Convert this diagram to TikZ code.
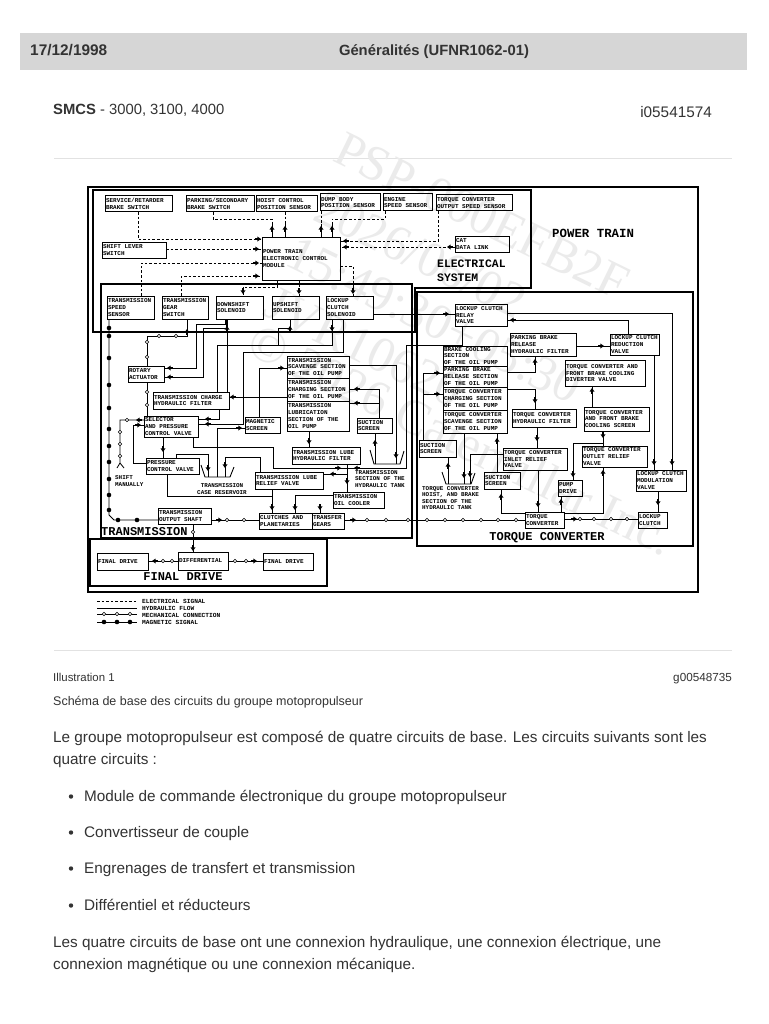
\documentclass[tikz,border=0pt]{standalone}
\usepackage{fontspec}
\setmainfont{Liberation Sans}
\setmonofont{Liberation Mono}
\newfontfamily\wmfont{Liberation Serif}
\usetikzlibrary{arrows.meta,decorations.markings}
\definecolor{body}{HTML}{333333}
\definecolor{sepc}{HTML}{E2E2E2}
\definecolor{barc}{HTML}{D6D6D6}
\definecolor{wmc}{HTML}{EBEBEB}
\newcommand\blobshape{\fill[black] (-6pt,-1.2pt) rectangle (-2.8pt,1.2pt); \fill[black] (-3.6pt,-2.5pt) -- (0pt,0pt) -- (-3.6pt,2.5pt) -- cycle;}
\newcommand\blobback{\fill[black] (6pt,-1.2pt) rectangle (2.8pt,1.2pt); \fill[black] (3.6pt,-2.5pt) -- (0pt,0pt) -- (3.6pt,2.5pt) -- cycle;}
\tikzset{
  tp/.style={postaction={decorate,decoration={markings,mark=at position #1 with {\blobshape}}}},
  tp/.default=-1pt,
  tpb/.style={postaction={decorate,decoration={markings,mark=at position #1 with {\blobback}}}},
  con/.style={line width=.8pt,draw=black},
  el/.style={line width=.8pt,draw=black,dash pattern=on 2.6pt off 2pt},
  bx/.style={draw=black,line width=1pt,inner xsep=1pt,inner ysep=0pt,outer sep=0pt,align=left,
     font=\ttfamily\bfseries\fontsize{6}{6.7}\selectfont},
  zone/.style={draw=black,line width=2pt,line join=miter},
  big/.style={font=\ttfamily\bfseries\fontsize{12}{13.5}\selectfont,inner sep=0pt,align=left},
  lab/.style={font=\ttfamily\bfseries\fontsize{5.9}{6.4}\selectfont,inner sep=0pt,align=left},
  txt/.style={font=\fontsize{15.3}{18}\selectfont,text=body,inner sep=0pt,anchor=base west},
  small/.style={font=\fontsize{11.7}{14}\selectfont,text=body,inner sep=0pt,anchor=base west},
  wm/.style={font=\wmfont\fontsize{50}{52}\selectfont,text=wmc,rotate=-26,anchor=west,inner sep=0pt},
}
\newcommand\bx[6]{%
  \pgfmathsetmacro\bxw{#4-#2}\pgfmathsetmacro\bxh{#5-#3}%
  \pgfmathsetmacro\bxm{(#2+#4)/2}\pgfmathsetmacro\bxn{(#3+#5)/2}%
  \pgfmathsetmacro\bxt{#4-#2-2}%
  \node[bx,minimum width=\bxw pt,minimum height=\bxh pt,text width=\bxt pt] (#1) at (\bxm,\bxn) {\spaceskip=3.6pt\relax #6};}
\newcommand\oc[2]{\filldraw[fill=white,draw=black,line width=.6pt] (#1,#2) circle (1.8pt);}
\newcommand\fc[2]{\fill[black] (#1,#2) circle (2.3pt);}
\begin{document}
\begin{tikzpicture}[x=1pt,y=-1pt]
\useasboundingbox (0,0) rectangle (768,1024);
\fill[white] (0,0) rectangle (768,1024);
% page furniture
\fill[barc] (20,33) rectangle (747,70);
\node[font=\bfseries\fontsize{15.4}{17}\selectfont,text=body,inner sep=0pt,anchor=base west] (date) at (30,56) {17/12/1998};
\node[font=\bfseries\fontsize{14.8}{16}\selectfont,text=body,inner sep=0pt,anchor=base] (title) at (434,56) {Généralités (UFNR1062-01)};
\node[txt,font=\fontsize{14.8}{18}\selectfont] (smcs) at (53,115) {\textbf{SMCS} - 3000, 3100, 4000};
\node[txt,anchor=base east] (iid) at (712,118) {i05541574};
\draw[sepc,line width=1pt] (54,159) -- (732,159);
\draw[sepc,line width=1pt] (54,650) -- (732,650);
% watermark
\node[wm] (wm1) at (338,146) {PSP-000EFB2F};
\node[wm] (wm2) at (318,205) {2026/06/02};
\node[wm] (wm3) at (290,250) {15:49:30+05:30};
\node[wm] (wm4) at (268,300) {JVR10620};
\node[wm] (wm5) at (250,342) {© 2026 Caterpillar Inc.};
% zones
\draw[black,line width=1.8pt] (88,187) rectangle (698,592);
\draw[zone] (93,190) -- (531,190) -- (531,288) -- (415,288) -- (415,332) -- (93,332) -- cycle;
\draw[zone] (101,538) -- (101,284) -- (412,284) -- (412,538) -- cycle;
\draw[zone] (417,292) rectangle (693,546);
\draw[zone] (90,539) rectangle (327,586);
% boxes - electrical
\bx{svc}{105}{196}{172}{212}{SERVICE/RETARDER\\BRAKE SWITCH}
\bx{park}{186}{196}{254}{212}{PARKING/SECONDARY\\BRAKE SWITCH}
\bx{hoist}{256}{196}{317}{212}{HOIST CONTROL\\POSITION SENSOR}
\bx{dump}{320}{194}{380}{211}{DUMP BODY\\POSITION SENSOR}
\bx{eng}{383}{194}{432}{211}{ENGINE\\SPEED SENSOR}
\bx{tcs}{436}{195}{512}{211}{TORQUE CONVERTER\\OUTPUT SPEED SENSOR}
\bx{lever}{102}{242}{166}{258}{SHIFT LEVER\\SWITCH}
\bx{ecm}{262}{237}{340}{280}{POWER TRAIN\\ELECTRONIC CONTROL\\MODULE}
\bx{cat}{455}{236}{509}{252}{CAT\\DATA LINK}
\bx{tsp}{107}{296}{154}{319}{TRANSMISSION\\SPEED\\SENSOR}
\bx{tgs}{162}{296}{208}{319}{TRANSMISSION\\GEAR\\SWITCH}
\bx{dn}{216}{296}{263}{319}{DOWNSHIFT\\SOLENOID}
\bx{up}{272}{296}{319}{319}{UPSHIFT\\SOLENOID}
\bx{lk}{326}{296}{373}{319}{LOCKUP\\CLUTCH\\SOLENOID}
% boxes - transmission
\bx{rot}{128}{366}{164}{382}{ROTARY\\ACTUATOR}
\bx{chg}{153}{392}{229}{409}{TRANSMISSION CHARGE\\HYDRAULIC FILTER}
\bx{sel}{144}{416}{198}{437}{SELECTOR\\AND PRESSURE\\CONTROL VALVE}
\bx{mag}{245}{417}{280}{433}{MAGNETIC\\SCREEN}
\bx{scav}{287}{356}{349}{378}{TRANSMISSION\\SCAVENGE SECTION\\OF THE OIL PUMP}
\bx{charge}{287}{378}{349}{401}{TRANSMISSION\\CHARGING SECTION\\OF THE OIL PUMP}
\bx{lube}{287}{401}{349}{431}{TRANSMISSION\\LUBRICATION\\SECTION OF THE\\OIL PUMP}
\bx{susc}{357}{418}{392}{433}{SUCTION\\SCREEN}
\bx{lfilt}{292}{447}{360}{464}{TRANSMISSION LUBE\\HYDRAULIC FILTER}
\bx{pcv}{146}{458}{199}{474}{PRESSURE\\CONTROL VALVE}
\bx{relief}{255}{472}{323}{489}{TRANSMISSION LUBE\\RELIEF VALVE}
\bx{cool}{333}{492}{384}{508}{TRANSMISSION\\OIL COOLER}
\bx{shaft}{158}{508}{211}{524}{TRANSMISSION\\OUTPUT SHAFT}
\bx{clu}{259}{513}{312}{529}{CLUTCHES AND\\PLANETARIES}
\bx{tra}{312}{513}{344}{529}{TRANSFER\\GEARS}
\bx{fd1}{97}{553}{148}{570}{FINAL DRIVE}
\bx{diff}{178}{552}{228}{570}{DIFFERENTIAL}
\bx{fd2}{263}{553}{313}{570}{FINAL DRIVE}
% boxes - torque converter
\bx{relay}{455}{304}{507}{326}{LOCKUP CLUTCH\\RELAY\\VALVE}
\bx{pf}{510}{333}{576}{356}{PARKING BRAKE\\RELEASE\\HYDRAULIC FILTER}
\bx{redv}{610}{334}{659}{355}{LOCKUP CLUTCH\\REDUCTION\\VALVE}
\bx{bcs}{443}{346}{507}{366}{BRAKE COOLING\\SECTION\\OF THE OIL PUMP}
\bx{prs}{443}{366}{507}{387}{PARKING BRAKE\\RELEASE SECTION\\OF THE OIL PUMP}
\bx{tcc}{443}{387}{507}{410}{TORQUE CONVERTER\\CHARGING SECTION\\OF THE OIL PUMP}
\bx{tcv}{443}{410}{507}{433}{TORQUE CONVERTER\\SCAVENGE SECTION\\OF THE OIL PUMP}
\bx{div}{565}{360}{645}{386}{TORQUE CONVERTER AND\\FRONT BRAKE COOLING\\DIVERTER VALVE}
\bx{thf}{512}{409}{576}{427}{TORQUE CONVERTER\\HYDRAULIC FILTER}
\bx{scr}{584}{407}{649}{431}{TORQUE CONVERTER\\AND FRONT BRAKE\\COOLING SCREEN}
\bx{ss1}{419}{440}{456}{457}{SUCTION\\SCREEN}
\bx{inl}{503}{448}{567}{470}{TORQUE CONVERTER\\INLET RELIEF\\VALVE}
\bx{orv}{582}{446}{647}{467}{TORQUE CONVERTER\\OUTLET RELIEF\\VALVE}
\bx{mod}{636}{470}{686}{491}{LOCKUP CLUTCH\\MODULATION\\VALVE}
\bx{ss2}{484}{472}{520}{489}{SUCTION\\SCREEN}
\bx{pump}{558}{480}{582}{496}{PUMP\\DRIVE}
\bx{tc}{525}{512}{564}{528}{TORQUE\\CONVERTER}
\bx{lc}{638}{512}{667}{528}{LOCKUP\\CLUTCH}
% labels
\node[big,font=\ttfamily\bfseries\fontsize{12.4}{14}\selectfont,anchor=west] (lpt) at (552,233) {POWER TRAIN};
\node[big,font=\ttfamily\bfseries\fontsize{11.4}{13.6}\selectfont,anchor=west] (les) at (437,271) {ELECTRICAL\\SYSTEM};
\node[big,anchor=west] (ltr) at (101,532) {TRANSMISSION};
\node[big,anchor=center] (lfd) at (183,577) {FINAL DRIVE};
\node[big,anchor=center] (ltc) at (547,538) {TORQUE CONVERTER};
\node[lab,anchor=west] (lsm) at (115,481) {SHIFT\\MANUALLY};
\node[lab,align=center] (lcr) at (222,489) {TRANSMISSION\\CASE RESERVOIR};
\node[lab,anchor=west] (lht) at (355,479) {TRANSMISSION\\SECTION OF THE\\HYDRAULIC TANK};
\node[lab,anchor=west] (ltt) at (422,498) {TORQUE CONVERTER\\HOIST, AND BRAKE\\SECTION OF THE\\HYDRAULIC TANK};
% tanks
\coordinate (resa) at (208,477); \coordinate (resb) at (217,477); \coordinate (resc) at (225,477);
\draw[con,line width=.9pt] (201,465) -- (205,477) -- (230,477) -- (234,467);
\coordinate (tnkL) at (375,464); \coordinate (tnkR) at (396,464);
\draw[con,line width=.9pt] (370,450) -- (374,464) -- (400,464) -- (404,451);
\coordinate (tcA) at (448,484); \coordinate (tcB) at (464,484); \coordinate (tcC) at (470,484);
\draw[con,line width=.9pt] (442,472) -- (446,484) -- (471,484) -- (475,473);
% electrical signals
\draw[el,tp] (svc.south -| 138,0) |- (ecm.west |- 0,239);
\draw[el] (park.south -| 213,0) -- (213,219) -| (ecm.north -| 272,0);
\draw[con,tpb=2pt] (272,224) -- (ecm.north -| 272,0);
\draw[el] (hoist.south -| 285,0) -- (ecm.north -| 285,0);
\draw[con,tpb=2pt] (285,224) -- (ecm.north -| 285,0);
\draw[el] (dump.south -| 321,0) -- (ecm.north -| 321,0);
\draw[con,tpb=2pt] (321,224) -- (ecm.north -| 321,0);
\draw[el] (eng.south -| 385,0) -- (385,219) -| (ecm.north -| 332,0);
\draw[con,tpb=2pt] (332,224) -- (ecm.north -| 332,0);
\draw[el,tp=-3pt] (tcs.south -| 438,0) |- (ecm.east |- 0,241);
\draw[el,tp=-3pt,tp=8pt] (cat.west |- 0,247) -- (ecm.east |- 0,247);
\draw[el,tp=-3pt] (lever.east |- 0,249) -- (ecm.west |- 0,249);
\draw[el,tp=-3pt] (tsp.north -| 141,0) |- (ecm.west |- 0,263);
\draw[el,tp=-3pt] (tgs.north -| 181,0) |- (ecm.west |- 0,276);
\draw[el,tp=-2pt] (ecm.south -| 277,0) -- (277,287) -| (dn.north -| 243,0);
\draw[el,tp=-2pt] (ecm.south -| 299,0) -- (up.north -| 299,0);
\draw[el,tp=-2pt] (ecm.east |- 0,266) -| (lk.north -| 353,0);
% magnetic line
\draw[con] (tsp.south -| 109,0) -- (109,515) -- (114,520) -- (shaft.west |- 0,520);
\foreach \yy in {328,336,358,385,408,429,446,462,479,495,510}{\fc{109}{\yy}}
\fc{118}{520}\fc{137}{520}
% mechanical lines
\draw[con,tpb=10pt] (tgs.south -| 187,0) -- (187,336) -- (147,336) -- (rot.north -| 147,0);
\oc{159}{336}\oc{176}{336}\oc{147}{342}\oc{147}{357}
\draw[con] (rot.south -| 147,0) -- (sel.north -| 147,0);
\oc{147}{392}\oc{147}{405}
\draw[con,tp=8pt] (sel.west |- 0,420) -- (120,420) -- (120,463) -- (117,468);
\draw[con] (120,463) -- (124,468);
\oc{127}{420}\oc{120}{432}\oc{120}{444}\oc{120}{456}
\draw[con,tp=-1pt] (shaft.south -| 193,0) -- (diff.north -| 193,0);
\oc{193}{532}
\draw[con,tp=11pt] (shaft.east |- 0,520) -- (clu.west |- 0,520);
\oc{227}{520}\oc{244}{520}
\draw[con,tp=12pt] (tra.east |- 0,520) -- (tc.west |- 0,520);
\foreach \xx in {367,386,408,427,445,463,481,498,516}{\oc{\xx}{520}}
\draw[con,tp=13pt] (tc.east |- 0,519) -- (lc.west |- 0,519);
\foreach \xx in {580,594,611,627}{\oc{\xx}{519}}
\draw[con,tpb=4pt] (fd1.east |- 0,561) -- (diff.west |- 0,561);
\oc{163}{561}\oc{172}{561}
\draw[con,tp=-6pt] (diff.east |- 0,561) -- (fd2.west |- 0,561);
\oc{235}{561}\oc{246}{561}
% hydraulic - transmission
\draw[con,tp=-3pt] (dn.south -| 225,0) -- (225,324) -- (196,324) |- (rot.east |- 0,368);
\draw[con,tp=-3pt] (dn.south -| 226,0) -- (226,328) -- (203,328) |- (rot.east |- 0,377);
\draw[con,tpb=7pt] (dn.south -| 227,0) -- (chg.north -| 227,0);
\draw[con,tpb=7pt] (up.south -| 290,0) -- (290,328) -- (278,328) -- (278,345) -- (217,345) -- (chg.north -| 217,0);
\draw[con,tp=12pt] (lk.south -| 332,0) -- (332,345) -- (278,345);
\draw[con,tp=-7pt] (lk.south -| 343,0) -- (343,352) -- (243,352) -- (243,424) -- (sel.east |- 0,424);
\draw[con,tp=-7pt] (chg.south -| 219,0) -- (219,419) -- (sel.east |- 0,419);
\draw[con,tp=-1pt] (charge.west |- 0,397) -- (chg.east |- 0,397);
\draw[con,tp=-3pt] (resb) -- (217,428) -- (mag.west |- 0,428);
\draw[con,tp=-3pt] (mag.north -| 259,0) |- (scav.west |- 0,368);
\draw[con,tp=-6pt] (scav.east |- 0,365) -- (396,365) -- (tnkR);
\draw[con,tp=-5pt] (susc.north -| 379,0) -- (379,389) -- (charge.east |- 0,389);
\draw[con,tp=-5pt] (379,403) -- (lube.east |- 0,403);
\draw[con,tp=-7pt] (tnkL) -- (susc.south -| 375,0);
\draw[con,tp=-3pt] (lube.south -| 309,0) -- (lfilt.north -| 309,0);
\draw[con,tp=-8pt] (lfilt.south -| 347,0) -- (cool.north -| 347,0);
\draw[con,tp=-6pt] (sel.south -| 193,0) -- (193,447) -- (273,447) -- (273,468) -- (347,468);
\draw[con,tp=-7pt] (relay.south -| 462,0) -- (462,345) -- (406,345) -- (406,468) -- (347,468);
\draw[con,tp=-7pt] (347,474) -- (relief.east |- 0,474);
\draw[con,tp=-3pt] (cool.west |- 0,495) -- (295,495) -- (clu.north -| 295,0);
\draw[con,tp=-3pt] (cool.south -| 320,0) -- (tra.north -| 320,0);
\draw[con,tp=-3pt] (relief.south -| 272,0) -- (clu.north -| 272,0);
\draw[con] (pcv.south -| 167,0) -- (167,496) -- (272,496);
\draw[con,tp=-6pt] (sel.south -| 163,0) -- (pcv.north -| 163,0);
\draw[con,tp=-3pt] (pcv.west |- 0,463) -- (133,463) -- (133,425) -- (sel.west |- 0,425);
\draw[con,tp=-6pt] (pcv.north -| 176,0) -- (176,454) -- (208,454) -- (resa);
\draw[con,tp=-9pt] (relief.north -| 260,0) -- (260,457) -- (225,457) -- (resc);
% hydraulic - torque converter
\draw[con,tp=-6pt] (lk.east |- 0,314) -- (relay.west |- 0,314);
\draw[con,tp=-5pt] (relay.east |- 0,313) -- (672,313) -- (mod.north -| 672,0);
\draw[con,tp=-3pt] (redv.north -| 628,0) -- (628,320) -- (relay.east |- 0,320);
\draw[con,tp=-5pt] (redv.south -| 654,0) -- (mod.north -| 654,0);
\draw[con,tp=-6pt] (pf.east |- 0,346) -- (redv.west |- 0,346);
\draw[con,tp=-3pt] (prs.east |- 0,372) -- (535,372) -- (pf.south -| 535,0);
\draw[con,tp=-6pt] (tcc.east |- 0,389) -- (535,389) -- (thf.north -| 535,0);
\draw[con,tp=-7pt] (thf.south -| 537,0) -- (inl.north -| 537,0);
\draw[con,tp=-3pt] (ss1.north -| 423,0) -- (423,373) -- (prs.west |- 0,373);
\draw[con,tp=-3pt] (423,394) -- (tcc.west |- 0,394);
\draw[con,tp=-6pt] (tcv.south -| 464,0) -- (tcB);
\draw[con,tp=-5pt] (ss2.north -| 497,0) -- (tcv.south -| 497,0);
\draw[con,tp=-6pt] (tcA) -- (ss1.south -| 448,0);
\draw[con,tp=-7pt] (inl.west |- 0,454) -- (470,454) -- (tcC);
\draw[con,tp=-5pt] (inl.south -| 538,0) -- (tc.north -| 538,0);
\draw[con,tp=-5pt] (tc.west |- 0,513) -- (501,513) -- (ss2.south -| 501,0);
\draw[con,tp=-3pt] (tc.north -| 561,0) -- (pump.south -| 561,0);
\draw[con,tp=-8pt] (scr.south -| 603,0) -- (orv.north -| 603,0);
\draw[con,tp=-3pt] (603,443) -- (573,443) -- (pump.north -| 573,0);
\draw[con,tp=-3pt] (tc.east |- 0,513) -- (603,513) -- (orv.south -| 603,0);
\draw[con,tp=-2pt] (scr.north -| 592,0) -- (div.south -| 592,0);
\draw[con,tp=-7pt] (mod.south -| 658,0) -- (lc.north -| 658,0);
% legend
\coordinate (la1) at (97,601); \coordinate (la2) at (137,601);
\coordinate (lb1) at (97,608); \coordinate (lb2) at (137,608);
\coordinate (lc1) at (97,614); \coordinate (lc2) at (137,614);
\coordinate (ld1) at (97,622); \coordinate (ld2) at (137,622);
\draw[el] (la1) -- (la2);
\draw[con] (lb1) -- (lb2);
\draw[con] (lc1) -- (lc2);\oc{104}{614}\oc{117}{614}\oc{130}{614}
\draw[con] (ld1) -- (ld2);\fc{104}{622}\fc{117}{622}\fc{130}{622}
\node[lab,anchor=west,font=\ttfamily\bfseries\fontsize{6.2}{7}\selectfont] (le1) at (142,601) {ELECTRICAL SIGNAL};
\node[lab,anchor=west,font=\ttfamily\bfseries\fontsize{6.2}{7}\selectfont] (le2) at (142,608) {HYDRAULIC FLOW};
\node[lab,anchor=west,font=\ttfamily\bfseries\fontsize{6.2}{7}\selectfont] (le3) at (142,615) {MECHANICAL CONNECTION};
\node[lab,anchor=west,font=\ttfamily\bfseries\fontsize{6.2}{7}\selectfont] (le4) at (142,622) {MAGNETIC SIGNAL};
% page text
\node[small,font=\fontsize{11.4}{14}\selectfont] (ill) at (53,681) {Illustration 1};
\node[small,anchor=base east] (gid) at (732,681) {g00548735};
\node[small,font=\fontsize{12.5}{14}\selectfont] (cap) at (53,705) {Schéma de base des circuits du groupe motopropulseur};
\node[txt] (p1a) at (53,742) {Le groupe motopropulseur est composé de quatre circuits de base. Les circuits suivants sont les};
\node[txt] (p1b) at (53,764) {quatre circuits :};
\foreach \yy/\nm/\tt in {801/b1/Module de commande électronique du groupe motopropulseur,837/b2/Convertisseur de couple,873/b3/Engrenages de transfert et transmission,910/b4/Différentiel et réducteurs}{
  \fill[body] (71,\yy-4.5) circle (2.2pt);
  \node[txt] (\nm) at (84,\yy) {\tt};
}
\node[txt] (p2a) at (53,947) {Les quatre circuits de base ont une connexion hydraulique, une connexion électrique, une};
\node[txt] (p2b) at (53,969) {connexion magnétique ou une connexion mécanique.};
\end{tikzpicture}
\end{document}
